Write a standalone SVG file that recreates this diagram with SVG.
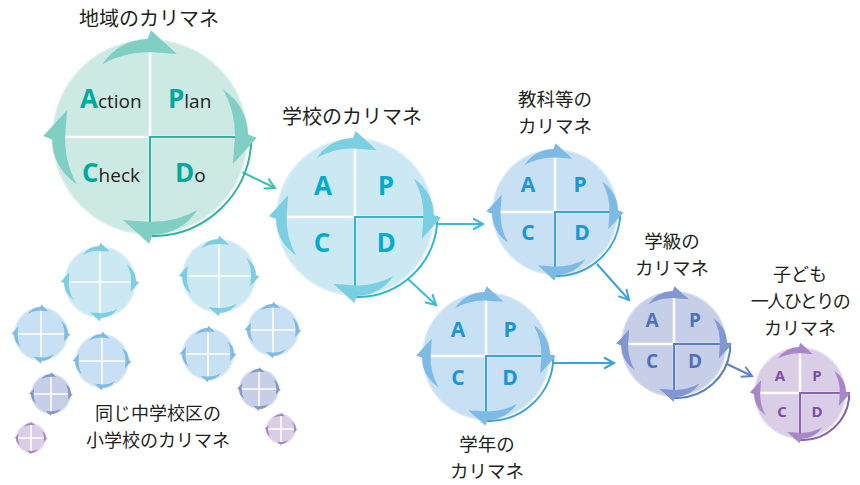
<svg xmlns="http://www.w3.org/2000/svg" xmlns:xlink="http://www.w3.org/1999/xlink" width="860" height="485" viewBox="0 0 860 485">
<style>
.ttl{font-family:"Noto Sans CJK JP","Noto Sans",sans-serif;font-size:20px;fill:#231f20;text-anchor:middle}
.ttl.s{font-size:18px}
.ttl.m{font-size:18.5px}
.lt{font-family:"Open Sans","Liberation Sans",sans-serif;font-weight:700;text-anchor:middle}
.lw{font-family:"Open Sans","Liberation Sans",sans-serif;font-size:19px;fill:#231f20}
.bl{font-weight:700;font-size:26px;fill:#00a99d}
.cr{stroke:#fff;stroke-width:2.5;fill:none}
.cr.s{stroke-width:1.6}
.dq{fill:none;stroke-width:2}
.cn{fill:none;stroke-width:2}
.rim{stroke:#fff;stroke-opacity:.3;stroke-width:3}
</style>
<defs>
<path id="ar" d="M-48.5,-74.6 Q-31.45,-99.1 -2.6,-100 L0.95,-109 L27.5,-84.6 L3,-86.4 Q-24.05,-88.1 -48.5,-74.6 Z"/>
<g id="arr4"><use xlink:href="#ar"/><use xlink:href="#ar" transform="rotate(90)"/><use xlink:href="#ar" transform="rotate(180)"/><use xlink:href="#ar" transform="rotate(270)"/></g>
<marker id="mTeal" markerUnits="userSpaceOnUse" markerWidth="14" markerHeight="14" refX="10" refY="6" orient="auto" overflow="visible"><path d="M0,0.5 L10,6 L0,11.5" fill="none" stroke="#40bfb0" stroke-width="2"/></marker>
<marker id="mCyan" markerUnits="userSpaceOnUse" markerWidth="14" markerHeight="14" refX="10" refY="6" orient="auto" overflow="visible"><path d="M0,0.5 L10,6 L0,11.5" fill="none" stroke="#3ab9da" stroke-width="2"/></marker>
<marker id="mBlue" markerUnits="userSpaceOnUse" markerWidth="14" markerHeight="14" refX="10" refY="6" orient="auto" overflow="visible"><path d="M0,0.5 L10,6 L0,11.5" fill="none" stroke="#3aa2e0" stroke-width="2"/></marker>
<marker id="mInd" markerUnits="userSpaceOnUse" markerWidth="14" markerHeight="14" refX="10" refY="6" orient="auto" overflow="visible"><path d="M0,0.5 L10,6 L0,11.5" fill="none" stroke="#5f82c9" stroke-width="2"/></marker>
</defs>
<rect width="860" height="485" fill="#fff"/>

<g id="connectors">
<path class="cn" stroke="#40bfb0" d="M242,172 L275,188" marker-end="url(#mTeal)"/>
<path class="cn" stroke="#3ab9da" d="M437,224 H483" marker-end="url(#mCyan)"/>
<path class="cn" stroke="#3ab9da" d="M408,279 L436,305" marker-end="url(#mCyan)"/>
<path class="cn" stroke="#3aa2e0" d="M597,264 L629,300" marker-end="url(#mBlue)"/>
<path class="cn" stroke="#3aa2e0" d="M553,363 H614" marker-end="url(#mBlue)"/>
<path class="cn" stroke="#5f82c9" d="M727,364 L752,376" marker-end="url(#mInd)"/>
</g>

<g id="region">
<text class="ttl" x="149" y="26">地域のカリマネ</text>
<circle class="rim" cx="150" cy="137" r="98" fill="#cde9e4"/>
<path class="cr" d="M52,137H248M150,39V235"/>
<path class="dq" stroke="#2bb3a3" stroke-width="2.5" d="M150,137H251V146A99 99 0 0 1 156,236H150Z"/>
<use xlink:href="#arr4" transform="translate(150 137) scale(0.98)" fill="#80cfc4"/>
<text class="lw" x="80" y="108"><tspan class="bl">A</tspan>ction</text>
<text class="lw" x="168" y="108"><tspan class="bl">P</tspan>lan</text>
<text class="lw" x="82" y="182"><tspan class="bl">C</tspan>heck</text>
<text class="lw" x="175" y="182"><tspan class="bl">D</tspan>o</text>
</g>

<g id="school">
<text class="ttl" x="352" y="124">学校のカリマネ</text>
<circle class="rim" cx="355" cy="217" r="79" fill="#cce9f3"/>
<path class="cr" d="M276,217H434M355,138V296"/>
<path class="dq" stroke="#2bb8d8" d="M355,217H437V225A80 80 0 0 1 359,297H355Z"/>
<use xlink:href="#arr4" transform="translate(355 217) scale(0.79)" fill="#7ccfe3"/>
<g class="lt" font-size="26" fill="#00add0"><text x="323" y="195">A</text><text x="386" y="195">P</text><text x="322" y="252">C</text><text x="386" y="252">D</text></g>
</g>

<g id="subject">
<text class="ttl m" x="555" y="106">教科等の</text>
<text class="ttl m" x="555" y="133">カリマネ</text>
<circle class="rim" cx="555" cy="212" r="63" fill="#c8e0f3"/>
<path class="cr" d="M492,212H618M555,149V275"/>
<path class="dq" stroke="#3ba3de" d="M555,212H620V219A64 64 0 0 1 559,276H555Z"/>
<use xlink:href="#arr4" transform="translate(555 212) scale(0.63)" fill="#7dbbe6"/>
<g class="lt" font-size="21" fill="#1b95d6"><text x="528" y="192">A</text><text x="580" y="192">P</text><text x="528" y="240">C</text><text x="582" y="240">D</text></g>
</g>

<g id="grade">
<text class="ttl m" x="487" y="451">学年の</text>
<text class="ttl m" x="487" y="478">カリマネ</text>
<circle class="rim" cx="486" cy="356" r="64" fill="#c8e0f3"/>
<path class="cr" d="M422,356H550M486,292V420"/>
<path class="dq" stroke="#3ba3de" d="M486,356H553V364A65 65 0 0 1 490,421H486Z"/>
<use xlink:href="#arr4" transform="translate(486 356) scale(0.64)" fill="#7dbbe6"/>
<g class="lt" font-size="21" fill="#1b95d6"><text x="458" y="337">A</text><text x="510" y="337">P</text><text x="458" y="385">C</text><text x="510" y="385">D</text></g>
</g>

<g id="class">
<text class="ttl m" x="672" y="248">学級の</text>
<text class="ttl m" x="672" y="275">カリマネ</text>
<circle class="rim" cx="674" cy="344" r="53" fill="#c6cee8"/>
<path class="cr" d="M621,344H727M674,291V397"/>
<path class="dq" stroke="#5a7fc6" d="M674,344H730V351A54 54 0 0 1 678,398H674Z"/>
<use xlink:href="#arr4" transform="translate(674 344) scale(0.53)" fill="#8197d1"/>
<g class="lt" font-size="19" fill="#4d72bb"><text x="652" y="327">A</text><text x="695" y="327">P</text><text x="652" y="368">C</text><text x="695" y="368">D</text></g>
</g>

<g id="child">
<text class="ttl s" x="800" y="281">子ども</text>
<text class="ttl s" x="800" y="308" letter-spacing="-1.5">一人ひとりの</text>
<text class="ttl s" x="800" y="335">カリマネ</text>
<circle class="rim" cx="800" cy="393" r="46" fill="#dacde6"/>
<path class="cr" d="M754,393H846M800,347V439"/>
<path class="dq" stroke="#8a62b5" d="M800,393H849V399A47 47 0 0 1 804,440H800Z"/>
<use xlink:href="#arr4" transform="translate(800 393) scale(0.46)" fill="#a687c8"/>
<g class="lt" font-size="15" fill="#7a4fa0"><text x="780" y="381">A</text><text x="817" y="381">P</text><text x="782" y="417">C</text><text x="817" y="417">D</text></g>
</g>

<g id="elementary">
<text class="ttl s" x="158" y="420">同じ中学校区の</text>
<text class="ttl s" x="158" y="447">小学校のカリマネ</text>
<g id="e1"><circle class="rim" cx="100" cy="282" r="36" fill="#cce9f3"/><path class="cr s" d="M64,282H136M100,246V318"/><use xlink:href="#arr4" transform="translate(100 282) scale(0.36)" fill="#7ccfe3"/></g>
<g id="e2"><circle class="rim" cx="219" cy="276" r="37" fill="#cce9f3"/><path class="cr s" d="M182,276H256M219,239V313"/><use xlink:href="#arr4" transform="translate(219 276) scale(0.37)" fill="#7ccfe3"/></g>
<g id="e3"><circle class="rim" cx="41" cy="334" r="27" fill="#c8e0f3"/><path class="cr s" d="M14,334H68M41,307V361"/><use xlink:href="#arr4" transform="translate(41 334) scale(0.27)" fill="#7dbbe6"/></g>
<g id="e4"><circle class="rim" cx="102" cy="361" r="27" fill="#c8e0f3"/><path class="cr s" d="M75,361H129M102,334V388"/><use xlink:href="#arr4" transform="translate(102 361) scale(0.27)" fill="#7dbbe6"/></g>
<g id="e5"><circle class="rim" cx="208" cy="354" r="26" fill="#c8e0f3"/><path class="cr s" d="M182,354H234M208,328V380"/><use xlink:href="#arr4" transform="translate(208 354) scale(0.26)" fill="#7dbbe6"/></g>
<g id="e6"><circle class="rim" cx="273" cy="330" r="26" fill="#c8e0f3"/><path class="cr s" d="M247,330H299M273,304V356"/><use xlink:href="#arr4" transform="translate(273 330) scale(0.26)" fill="#7dbbe6"/></g>
<g id="e7"><circle class="rim" cx="51" cy="394" r="20" fill="#c6cee8"/><path class="cr s" d="M31,394H71M51,374V414"/><use xlink:href="#arr4" transform="translate(51 394) scale(0.2)" fill="#8197d1"/></g>
<g id="e8"><circle class="rim" cx="259" cy="389" r="20" fill="#c6cee8"/><path class="cr s" d="M239,389H279M259,369V409"/><use xlink:href="#arr4" transform="translate(259 389) scale(0.2)" fill="#8197d1"/></g>
<g id="e9"><circle class="rim" cx="31" cy="438" r="15" fill="#dacde6"/><path class="cr s" d="M16,438H46M31,423V453"/><use xlink:href="#arr4" transform="translate(31 438) scale(0.15)" fill="#a687c8"/></g>
<g id="e10"><circle class="rim" cx="281" cy="429" r="15" fill="#dacde6"/><path class="cr s" d="M266,429H296M281,414V444"/><use xlink:href="#arr4" transform="translate(281 429) scale(0.15)" fill="#a687c8"/></g>
</g>
</svg>
